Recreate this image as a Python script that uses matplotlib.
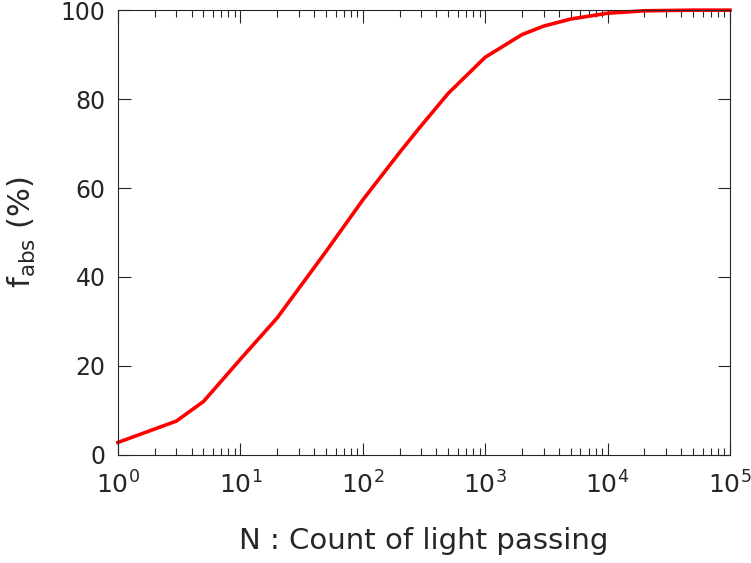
import matplotlib
matplotlib.use("Agg")
import matplotlib.pyplot as plt
from matplotlib.ticker import LogLocator, NullFormatter

# Absorbed fraction versus number of light passes
n_pass = [1, 3, 5, 10, 20, 50, 100, 200, 300, 500, 1000, 2000, 3000, 5000,
          10000, 20000, 50000, 100000]
f_abs = [2.8, 7.6, 12.0, 21.5, 30.8, 45.7, 57.3, 68.0, 74.0, 81.3, 89.4,
         94.5, 96.4, 98.0, 99.3, 99.85, 100.0, 100.0]

x_ticks = [1, 10, 100, 1000, 10000, 100000]
x_ticklabels = [r"$10^{0}$", r"$10^{1}$", r"$10^{2}$", r"$10^{3}$",
                r"$10^{4}$", r"$10^{5}$"]
y_ticks = [0, 20, 40, 60, 80, 100]

axis_color = "#262626"
plt.rcParams["font.family"] = "DejaVu Sans"
plt.rcParams["mathtext.fontset"] = "dejavusans"

fig = plt.figure(figsize=(7.51, 5.63), dpi=100)
ax = fig.add_axes([0.157, 0.192, 0.815, 0.790])

ax.plot(n_pass, f_abs, color="#ff0000", linewidth=2.6, solid_joinstyle="miter",
        clip_on=False)

ax.set_xscale("log")
ax.set_xlim(1, 1e5)
ax.set_ylim(0, 100)
ax.set_xticks(x_ticks)
ax.set_xticklabels(x_ticklabels)
ax.set_yticks(y_ticks)
ax.xaxis.set_minor_locator(LogLocator(base=10, subs=range(2, 10), numticks=20))
ax.xaxis.set_minor_formatter(NullFormatter())

ax.tick_params(which="both", direction="in", top=True, right=True,
               colors=axis_color, width=0.8, labelsize=17)
ax.tick_params(axis="x", which="major", length=9, pad=12, labelsize=18)
ax.tick_params(axis="y", which="major", length=9, pad=9)
ax.tick_params(which="minor", length=5)
for s in ax.spines.values():
    s.set_color(axis_color)
    s.set_linewidth(0.8)

ax.set_xlabel("N : Count of light passing", fontsize=21, color=axis_color,
              labelpad=20)
ax.set_ylabel(r"f$_{\rm abs}$ (%)", fontsize=22, color=axis_color, labelpad=16)

fig.savefig("out.png", dpi=100)
